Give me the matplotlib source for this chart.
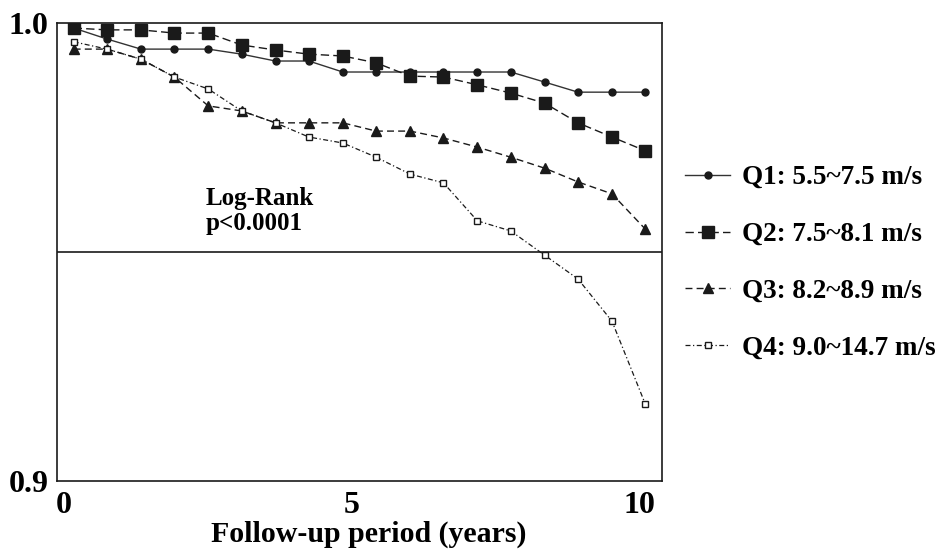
import matplotlib
matplotlib.use("Agg")
import matplotlib.pyplot as plt

# follow-up time (years) of each plotted step
years = [0.17, 0.75, 1.34, 1.92, 2.51, 3.09, 3.68, 4.26, 4.85,
         5.43, 6.02, 6.60, 7.19, 7.77, 8.36, 8.94, 9.53, 10.11]

q1 = [0.9989, 0.9965, 0.9943, 0.9943, 0.9943, 0.9932, 0.9917, 0.9917, 0.9893,
      0.9893, 0.9893, 0.9893, 0.9893, 0.9893, 0.9871, 0.9849, 0.9849, 0.9849]
q2 = [0.9989, 0.9985, 0.9985, 0.9978, 0.9978, 0.9952, 0.9941, 0.9932, 0.9928,
      0.9913, 0.9884, 0.9882, 0.9865, 0.9847, 0.9825, 0.9782, 0.9751, 0.9721]
q3 = [0.9943, 0.9943, 0.9921, 0.9882, 0.9819, 0.9808, 0.9782, 0.9782, 0.9782,
      0.9764, 0.9764, 0.9749, 0.9729, 0.9707, 0.9683, 0.9653, 0.9627, 0.9550]
q4 = [0.9959, 0.9943, 0.9921, 0.9882, 0.9856, 0.9808, 0.9782, 0.9751, 0.9738,
      0.9707, 0.9670, 0.9651, 0.9568, 0.9546, 0.9493, 0.9441, 0.9349, 0.9168]

labels = ["Q1: 5.5~7.5 m/s", "Q2: 7.5~8.1 m/s",
          "Q3: 8.2~8.9 m/s", "Q4: 9.0~14.7 m/s"]

plt.rcParams['font.family'] = ['Liberation Serif', 'DejaVu Serif']
plt.rcParams['font.weight'] = 'bold'

fig = plt.figure(figsize=(9.39, 5.53), dpi=100)
ax = fig.add_axes([0.0607, 0.1302, 0.6443, 0.8282])

ink = '#1a1a1a'
ax.plot(years, q1, color='#333333', lw=1.0, ls='-', marker='o', ms=5,
        mfc=ink, mec=ink, label=labels[0])
ax.plot(years, q2, color=ink, lw=1.0, ls=(0, (6, 3)), marker='s', ms=8, label=labels[1])
ax.plot(years, q3, color=ink, lw=1.0, ls=(0, (5, 3)), marker='^', ms=6.5, label=labels[2])
ax.plot(years, q4, color=ink, lw=0.9, ls=(0, (4, 2, 1, 2)), marker='s', ms=4.5,
        mfc='white', mec=ink, mew=1.0, label=labels[3])

ax.axhline(0.95, color=ink, lw=1.2)

ax.text(2.47, 0.9603, "Log-Rank", fontsize=18, fontweight='bold', va='baseline')
ax.text(2.47, 0.9548, "p<0.0001", fontsize=18, fontweight='bold', va='baseline')

ax.set_xlim(-0.12, 10.4)
ax.set_ylim(0.9, 1.0)
ax.set_xticks([0, 5, 10])
ax.set_yticks([0.9, 1.0])
ax.set_yticklabels(["0.9", "1.0"])
ax.tick_params(length=0, labelsize=23)
ax.tick_params(axis='x', pad=7)
ax.tick_params(axis='y', pad=6)
for lab in ax.get_xticklabels() + ax.get_yticklabels():
    lab.set_fontweight('bold')
ax.set_xlabel("Follow-up period (years)", fontsize=21.5, fontweight='bold')
ax.xaxis.set_label_coords(0.516, -0.087)

for s in ax.spines.values():
    s.set_linewidth(1.2)
    s.set_color(ink)

ax.legend(loc='center left', bbox_to_anchor=(1.038, 0.476), frameon=False,
          borderpad=0, borderaxespad=0,
          handlelength=1.67, handletextpad=0.45, labelspacing=1.18,
          prop={'weight': 'bold', 'size': 19.5})

fig.savefig("out.png", dpi=100)
